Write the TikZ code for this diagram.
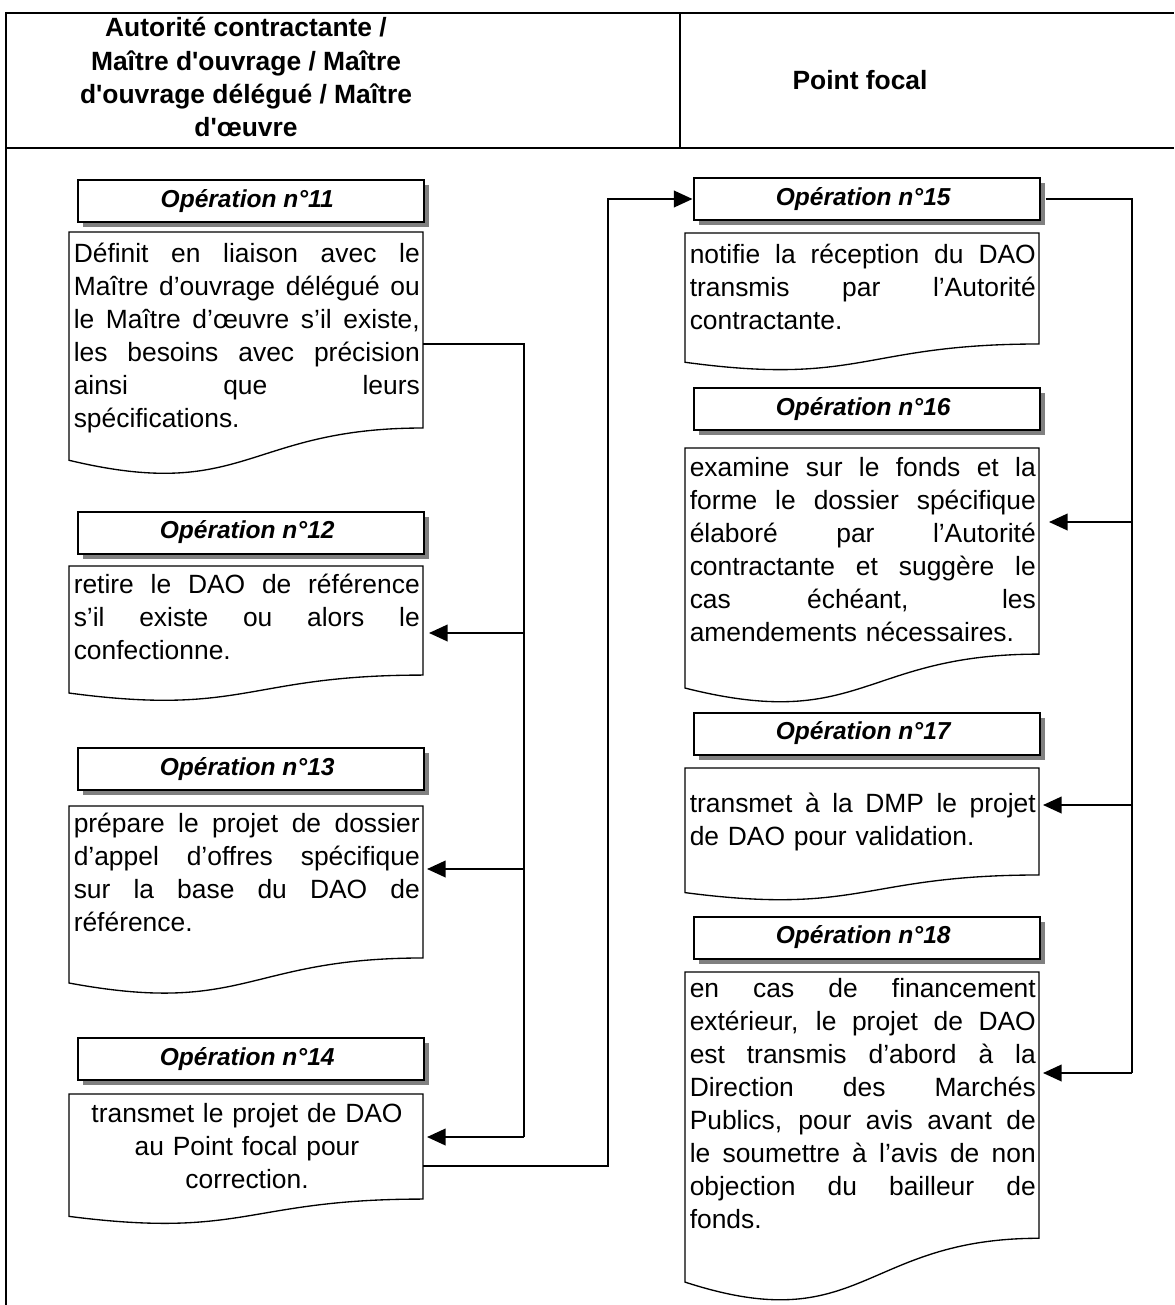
\documentclass[tikz,border=0pt]{standalone}
\usepackage{fontspec}
\setmainfont{Liberation Sans}
\usetikzlibrary{arrows.meta,shadows,calc}
\newlength\tw \setlength\tw{259.5pt}
\newcommand\jl[1]{\makebox[\tw][s]{\spaceskip=\fontdimen2\font plus 1fil\relax #1}}
\newcommand\fs{\rule{0pt}{20pt}}
\newcommand\opn[1]{Opération n°#1\kern5pt}
\newcommand\docshape[5]{%
  \path[docline] (#2,#3) coordinate (#1) -- (#4,#3) -- (#4,{#3+0.802*#5})
    .. controls ({(#2+#4)/2},{#3+0.802*#5}) and ({(#2+#4)/2},{#3+1.1075*#5}) .. (#2,{#3+0.934*#5}) -- cycle;}
\tikzset{
  frame/.style={line width=2.2pt},
  divline/.style={line width=1.6pt},
  oplabel/.style={draw, line width=1.5pt, fill=white, minimum width=259.5pt, minimum height=31.5pt,
    inner sep=0pt, font=\fontsize{18.4}{21}\selectfont\bfseries\itshape,
    drop shadow={shadow xshift=3.75pt, shadow yshift=-3.75pt, fill=gray, opacity=1}},
  docline/.style={draw, line width=1pt, fill=white},
  doctext/.style={anchor=north west, inner sep=0pt, text width=\tw, align=left,
    font=\fontsize{19.8}{24.75}\selectfont},
  hdr/.style={font=\fontsize{19.8}{25}\selectfont\bfseries, inner sep=0pt, align=center},
  conn/.style={line width=1.4pt},
  arr/.style={conn, -{Triangle[length=14pt,width=12.5pt]}},
}
\begin{document}
\begin{tikzpicture}[x=0.75pt,y=-0.75pt]
\useasboundingbox (0,0) rectangle (1174,1305);
\fill[white] (0,0) rectangle (1174,1305);
% table frame
\draw[frame] (5,13) -- (1174,13);
\draw[frame] (5,148) -- (1174,148);
\draw[frame] (6,12) -- (6,1305);
\draw[divline] (680,13) -- (680,148);
\node[hdr, anchor=north] (h1) at (246,10) {\fs Autorité contractante /\\ Maître d\textquotesingle ouvrage / Maître\\ d\textquotesingle ouvrage délégué / Maître\\ d\textquotesingle œuvre};
\node[hdr, anchor=base] (h2) at (860,90) {Point focal};

% operation labels
\node[oplabel] (o11) at (250.5,201) {\opn{11}};
\node[oplabel] (o12) at (250.5,532.5) {\opn{12}};
\node[oplabel] (o13) at (250.5,769) {\opn{13}};
\node[oplabel] (o14) at (250.5,1059) {\opn{14}};
\node[oplabel] (o15) at (866.5,199) {\opn{15}};
\node[oplabel] (o16) at (866.5,409) {\opn{16}};
\node[oplabel] (o17) at (866.5,733.5) {\opn{17}};
\node[oplabel] (o18) at (866.5,937.5) {\opn{18}};

% document shapes
\docshape{d11}{69}{232}{423}{244.4}
\docshape{d12}{69}{566}{423}{136}
\docshape{d13}{69}{806}{423}{189.5}
\docshape{d14}{69}{1094}{423}{131}
\docshape{d15}{685}{233}{1039}{138.4}
\docshape{d16}{685}{448}{1039}{257}
\docshape{d17}{685}{768}{1039}{133.4}
\docshape{d18}{685}{972}{1039}{332}

% texts
\node[doctext] (t11) at (73.5,235.3) {\fs\jl{Définit en liaison avec le}\\
\jl{Maître d’ouvrage délégué ou}\\
\jl{le Maître d’œuvre s’il existe,}\\
\jl{les besoins avec précision}\\
\jl{ainsi que leurs}\\
spécifications.};
\node[doctext] (t12) at (73.5,566.3) {\fs\jl{retire le DAO de référence}\\
\jl{s’il existe ou alors le}\\
confectionne.};
\node[doctext] (t13) at (73.5,805.3) {\fs\jl{prépare le projet de dossier}\\
\jl{d’appel d’offres spécifique}\\
\jl{sur la base du DAO de}\\
référence.};
\node[doctext, anchor=north, align=center] (t14) at (247,1095.3) {\fs transmet le projet de DAO\\
au Point focal pour\\
correction.};
\node[doctext] (t15) at (689.5,236.3) {\fs\jl{notifie la réception du DAO}\\
\jl{transmis par l’Autorité}\\
contractante.};
\node[doctext] (t16) at (689.5,449.3) {\fs\jl{examine sur le fonds et la}\\
\jl{forme le dossier spécifique}\\
\jl{élaboré par l’Autorité}\\
\jl{contractante et suggère le}\\
\jl{cas échéant, les}\\
amendements nécessaires.};
\node[doctext] (t17) at (689.5,785.3) {\fs\jl{transmet à la DMP le projet}\\
de DAO pour validation.};
\node[doctext] (t18) at (689.5,970.3) {\fs\jl{en cas de financement}\\
\jl{extérieur, le projet de DAO}\\
\jl{est transmis d’abord à la}\\
\jl{Direction des Marchés}\\
\jl{Publics, pour avis avant de}\\
\jl{le soumettre à l’avis de non}\\
\jl{objection du bailleur de}\\
fonds.};

% connector points
\coordinate (s11) at (423,344);
\coordinate (bL1) at (524,344);
\coordinate (bL2) at (524,633);
\coordinate (bL3) at (524,869);
\coordinate (bL4) at (524,1137);
\coordinate (e12) at (429,633);
\coordinate (e13) at (427,869);
\coordinate (e14) at (427,1137);
\coordinate (s14) at (423,1166);
\coordinate (m14) at (608,1166);
\coordinate (bR1) at (1132,199);
\coordinate (bR2) at (1132,522);
\coordinate (bR3) at (1132,805);
\coordinate (bR4) at (1132,1073);
\coordinate (e16) at (1049,522);
\coordinate (e17) at (1043,805);
\coordinate (e18) at (1043,1073);

% connectors
\draw[conn] (s11) -- (bL1) -- (bL4);
\draw[arr] (bL2) -- (e12);
\draw[arr] (bL3) -- (e13);
\draw[arr] (bL4) -- (e14);
\draw[arr] (s14) -- (m14) -- (m14 |- o15.west) -- (o15.west);
\draw[conn] ($(o15.east)+(5,0)$) -- (bR1) -- (bR4);
\draw[arr] (bR2) -- (e16);
\draw[arr] (bR3) -- (e17);
\draw[arr] (bR4) -- (e18);
\end{tikzpicture}
\end{document}
